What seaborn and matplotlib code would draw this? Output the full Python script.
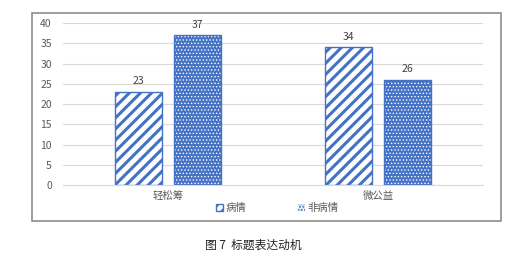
import pandas as pd
import matplotlib
matplotlib.use("Agg")
import matplotlib.pyplot as plt
import matplotlib.patches as mpatches
import seaborn as sns

platforms = ["轻松筹", "微公益"]
types = ["病情", "非病情"]
bingqing = [23, 34]
fei_bingqing = [37, 26]
yticks = [0, 5, 10, 15, 20, 25, 30, 35, 40]
caption = "图 7  标题表达动机"

df = pd.DataFrame({
    "platform": platforms * 2,
    "type": [types[0]] * 2 + [types[1]] * 2,
    "count": bingqing + fei_bingqing,
})

sns.set_style("white")
plt.rcParams["font.family"] = ["Noto Sans CJK SC", "DejaVu Sans"]
plt.rcParams["hatch.linewidth"] = 2.2

blue = "#4472C4"
fig = plt.figure(figsize=(5.31, 2.59), dpi=100)
ax = fig.add_axes([0.1186, 0.2857, 0.791, 0.6255])

sns.barplot(data=df, x="platform", y="count", hue="type", hue_order=types,
            width=0.56, gap=0.2, legend=False, ax=ax)


def dotted(p):
    p.set_facecolor(blue)
    p.set_edgecolor("white")
    p.set_hatch(".....")
    p.set_linewidth(0)
    if hasattr(p, "set_hatch_linewidth"):
        p.set_hatch_linewidth(0.6)


for i, p in enumerate(list(ax.patches)):
    if i < 2:
        p.set_facecolor("white")
        p.set_edgecolor(blue)
        p.set_hatch("///")
        p.set_linewidth(1)
    else:
        dotted(p)
        ax.add_patch(mpatches.Rectangle(p.get_xy(), p.get_width(), p.get_height(),
                                        fill=False, edgecolor=blue, lw=1))

for c in ax.containers:
    ax.bar_label(c, padding=4, fontsize=7.5, color="#404040")

ax.set_ylim(0, 40)
ax.set_yticks(yticks)
ax.set_xlim(-0.5, 1.5)
ax.grid(axis="y", color="#D9D9D9", lw=0.8)
ax.set_axisbelow(True)
for s in ["top", "right", "left"]:
    ax.spines[s].set_visible(False)
ax.spines["bottom"].set_color("#D9D9D9")
ax.set_xlabel("")
ax.set_ylabel("")
ax.tick_params(axis="y", labelsize=7.5, labelcolor="#595959", pad=8, length=0)
ax.tick_params(axis="x", labelsize=7.5, labelcolor="#595959", pad=4, length=0)

h1 = mpatches.Patch(facecolor="white", edgecolor=blue, hatch="///", label=types[0])
h2 = mpatches.Patch(label=types[1])
dotted(h2)
fig.legend(handles=[h1, h2], loc="center", bbox_to_anchor=(0.522, 0.197),
           ncol=2, frameon=False, fontsize=7.5, handlelength=0.7, handleheight=0.7,
           handletextpad=0.2, columnspacing=5, labelcolor="#595959")

fig.add_artist(mpatches.Rectangle((0.0603, 0.1467), 0.8832, 0.8031,
                                  transform=fig.transFigure, fill=False,
                                  edgecolor="#8C8C8C", lw=1.2))
fig.text(0.477, 0.054, caption, ha="center", va="center", fontsize=8.5, color="#222222")

fig.savefig("out.png", dpi=100)
